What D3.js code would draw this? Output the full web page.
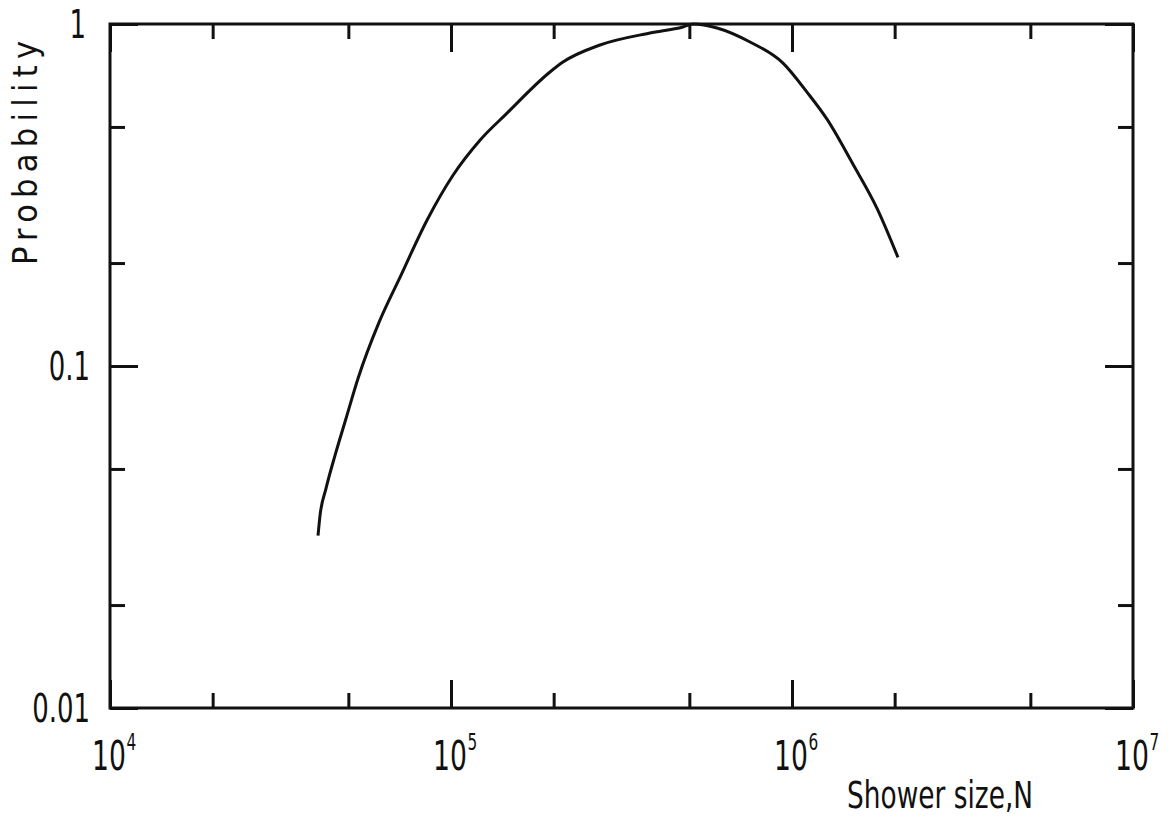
<!DOCTYPE html>
<html>
<head>
<meta charset="utf-8">
<script src="https://cdn.jsdelivr.net/npm/d3@7"></script>
<style>
  html, body { margin: 0; padding: 0; background: #fff; }
  svg { display: block; }
  .lbl { font-family: "Liberation Sans Narrow", "DejaVu Sans Condensed", "Liberation Sans", sans-serif; fill: #111; }
</style>
</head>
<body>
<svg id="chart" width="1171" height="818"></svg>
<script>
// ---- data ----
const showerSize = [40740, 41290, 42990, 45680, 49220, 53370, 61500, 70860, 85040, 101370,
                    121620, 146000, 195100, 213000, 273500, 383300, 478800, 512600, 602700,
                    753200, 941000, 1106600, 1266500, 1509800, 1775600, 2045600];
const probability = [0.0319, 0.0365, 0.0438, 0.0547, 0.0702, 0.0919, 0.1341, 0.1816, 0.2668, 0.3612,
                     0.4573, 0.5487, 0.7237, 0.7738, 0.8681, 0.9410, 0.9800, 1.0, 0.9734,
                     0.8857, 0.7687, 0.6323, 0.5270, 0.3890, 0.2891, 0.2078];

const xMajorTicks = [1e4, 1e5, 1e6, 1e7];
const xTickExponents = ["4", "5", "6", "7"];
const xMinorTicks = [2e4, 5e4, 2e5, 5e5, 2e6, 5e6];
const yMajorTicks = [0.01, 0.1, 1];
const yTickLabels = ["0.01", "0.1", "1"];
const yMinorTicks = [0.02, 0.05, 0.2, 0.5];
const xTitle = "Shower size,N";
const yTitle = "Probability";

// ---- layout ----
const L = 110, R = 1133, T = 24, B = 708;
const svg = d3.select("#chart");

const x = d3.scaleLog().domain([1e4, 1e7]).range([L, R]);
const y = d3.scaleLog().domain([0.01, 1]).range([B, T]);

const majorLen = 28, minorLen = 15;

function styleAxis(g) {
  g.select(".domain").remove();
  g.selectAll(".tick line").attr("stroke", "#111").attr("stroke-width", 3);
  g.selectAll(".tick text").remove();
}

// inward ticks on all four sides
svg.append("g").attr("transform", `translate(0,${B})`)
  .call(d3.axisBottom(x).tickValues(xMajorTicks).tickSize(-majorLen).tickFormat("")).call(styleAxis);
svg.append("g").attr("transform", `translate(0,${B})`)
  .call(d3.axisBottom(x).tickValues(xMinorTicks).tickSize(-minorLen).tickFormat("")).call(styleAxis);
svg.append("g").attr("transform", `translate(0,${T})`)
  .call(d3.axisTop(x).tickValues(xMajorTicks).tickSize(-majorLen).tickFormat("")).call(styleAxis);
svg.append("g").attr("transform", `translate(0,${T})`)
  .call(d3.axisTop(x).tickValues(xMinorTicks).tickSize(-minorLen).tickFormat("")).call(styleAxis);
svg.append("g").attr("transform", `translate(${L},0)`)
  .call(d3.axisLeft(y).tickValues(yMajorTicks).tickSize(-majorLen).tickFormat("")).call(styleAxis);
svg.append("g").attr("transform", `translate(${L},0)`)
  .call(d3.axisLeft(y).tickValues(yMinorTicks).tickSize(-minorLen).tickFormat("")).call(styleAxis);
svg.append("g").attr("transform", `translate(${R},0)`)
  .call(d3.axisRight(y).tickValues(yMajorTicks).tickSize(-majorLen).tickFormat("")).call(styleAxis);
svg.append("g").attr("transform", `translate(${R},0)`)
  .call(d3.axisRight(y).tickValues(yMinorTicks).tickSize(-minorLen).tickFormat("")).call(styleAxis);

// frame
svg.append("rect")
  .attr("x", L).attr("y", T).attr("width", R - L).attr("height", B - T)
  .attr("fill", "none").attr("stroke", "#111").attr("stroke-width", 3);

// curve
const line = d3.line()
  .x((d, i) => x(showerSize[i]))
  .y((d, i) => y(probability[i]))
  .curve(d3.curveMonotoneX);
svg.append("path")
  .datum(showerSize)
  .attr("d", line)
  .attr("fill", "none")
  .attr("stroke", "#111")
  .attr("stroke-width", 3)
  .attr("stroke-linejoin", "round")
  .attr("stroke-linecap", "butt");

// y tick labels (horizontally condensed lettering)
const squeeze = 0.74;
yMajorTicks.forEach((v, i) => {
  svg.append("g")
    .attr("transform", `translate(${i === 2 ? 86 : 90},${y(v) + 14}) scale(${squeeze},1)`)
    .append("text").attr("class", "lbl")
    .attr("text-anchor", "end")
    .attr("font-size", 39)
    .text(yTickLabels[i]);
});

// x tick labels: "10" with a superscript exponent
xMajorTicks.forEach((v, i) => {
  const g = svg.append("g")
    .attr("transform", `translate(${x(v) - 18},770) scale(${squeeze},1)`);
  const base = g.append("text").attr("class", "lbl")
    .attr("font-size", 40)
    .text("10");
  const w = base.node().getComputedTextLength();
  g.append("text").attr("class", "lbl")
    .attr("x", w + 1).attr("y", -20)
    .attr("font-size", 23)
    .text(xTickExponents[i]);
});

// axis titles
svg.append("text").attr("class", "lbl")
  .attr("x", 847).attr("y", 808)
  .attr("font-size", 37)
  .attr("textLength", 186).attr("lengthAdjust", "spacingAndGlyphs")
  .text(xTitle);

svg.append("text").attr("class", "lbl")
  .attr("transform", "translate(37,265) rotate(-90)")
  .attr("x", 0).attr("y", 0)
  .attr("font-size", 34)
  .attr("textLength", 224).attr("lengthAdjust", "spacing")
  .text(yTitle);
</script>
</body>
</html>
